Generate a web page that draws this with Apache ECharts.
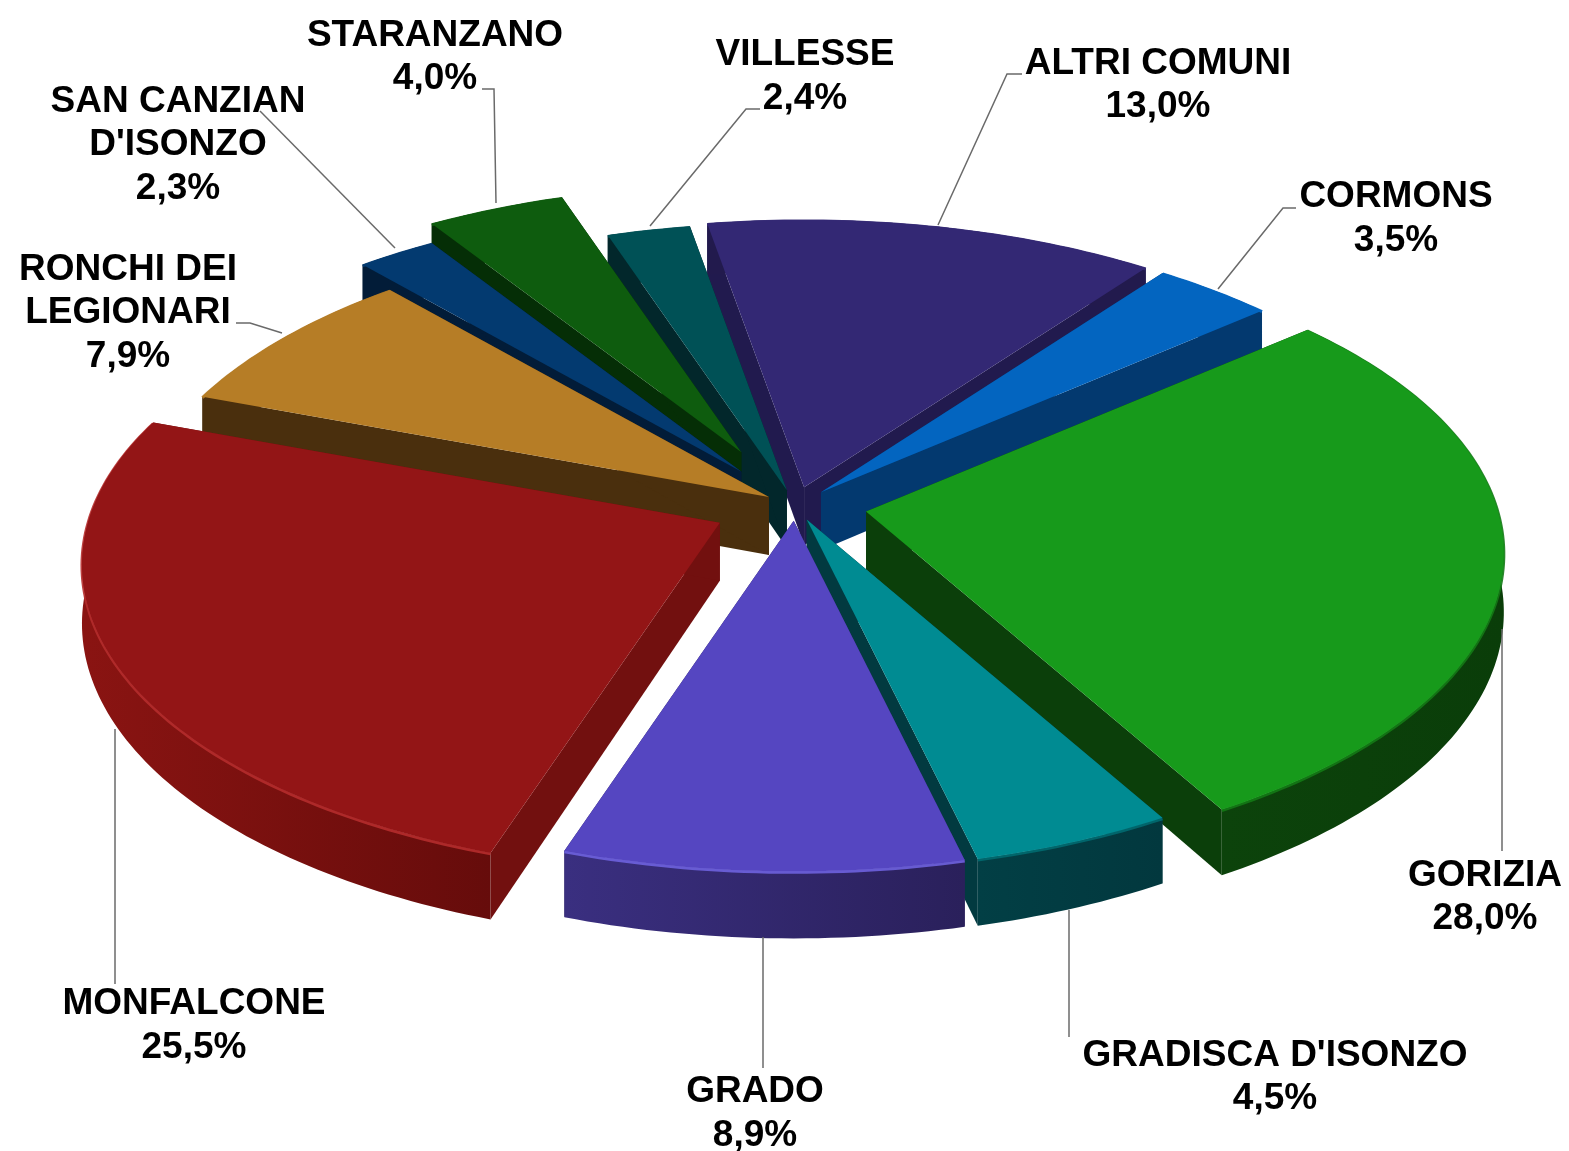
<!DOCTYPE html>
<html>
<head>
<meta charset="utf-8">
<style>html,body{margin:0;padding:0;background:#fff}#c{width:1569px;height:1151px}</style>
<script src="https://cdn.jsdelivr.net/npm/echarts@6/dist/echarts.min.js"></script>
</head>
<body>
<div id="c"></div>
<script>
// data (clockwise from the first slice)
const categories = ['ALTRI COMUNI','CORMONS','GORIZIA',"GRADISCA D'ISONZO",'GRADO','MONFALCONE','RONCHI DEI\nLEGIONARI',"SAN CANZIAN\nD'ISONZO",'STARANZANO','VILLESSE'];
const shares = [13.0,3.5,28.0,4.5,8.9,25.5,7.9,2.3,4.0,2.4];
// slice pull-out, as a fraction of the radius
const explode = [0.062,0.06,0.114,0.05,0.05,0.132,0.05,0.14,0.195,0.052];
// painter's order, back to front
const drawOrder = [0,9,1,8,7,6,2,5,3,4];
// styling: top face, side wall gradient, cut wall, rim highlight
const faceColors = ['#332874','#0365c0','#179a1b','#008b92','#5546c1','#931516','#b67d26','#033a70','#0e5c0e','#005156'];
const wallFrom   = ['#221a4d','#03396f','#0c430b','#023f45','#3a2f80','#8a1412','#4a2f0d','#021c38','#052e06','#02272b'];
const wallTo     = ['#221a4d','#03396f','#0a3d09','#02383e','#2a205b','#660c0b','#4a2f0d','#021c38','#052e06','#02272b'];
const cutColors  = ['#211a4e','#03396f','#0b3f0a','#023a40','#2a205b','#72100f','#4a2f0d','#021c38','#052e06','#02272b'];
const rimColors  = ['#332874','#0365c0','#137a15','#016a70','#6e62de','#b52c2c','#b67d26','#033a70','#0e5c0e','#005156'];
// label anchors (centre of the text block) and leader lines
const labelPos = [[1158,85.5],[1396,219],[1485,897.5],[1275,1077.5],[755,1114],[194,1026],[128,313],[178,145],[435,57.5],[805,77]];
const leaders = [
  [[1022,74],[1007,74],[938,225]],
  [[1296,208],[1283,208],[1218,289]],
  [[1502,629],[1502,851]],
  [[1069,910],[1069,1037]],
  [[763,937],[763,1068]],
  [[115,729],[115,984]],
  [[236,323],[250,323],[282,333]],
  [[260,111],[395,248]],
  [[482,89],[494,89],[496,203]],
  [[760,109],[746,109],[650,226]]
];

// projection of the tilted disc
const CX = 795, CY = 505.5, R = 632, TILT = 0.48, PERSP = 0.135, ROT = -10, DEPTH = 58;
const rad = d => d * Math.PI / 180;
function project(theta, r, off, down) {
  const u = Math.sin(rad(theta)) * r, v = -Math.cos(rad(theta)) * r, w = 1 - PERSP * v;
  return [CX + off[0] + R * u / w, CY + off[1] + R * TILT * v / w + (down ? DEPTH / w : 0)];
}
const cumulative = [];
shares.reduce((a, v, i) => (cumulative[i] = a, a + v), 0);

function renderSlice(params, api) {
  const i = drawOrder[params.dataIndex];
  const start = api.value(0) * 3.6 + ROT, sweep = api.value(1) * 3.6, mid = start + sweep / 2;
  const off = [R * explode[i] * Math.sin(rad(mid)), -R * TILT * explode[i] * Math.cos(rad(mid))];
  const top = [], bottom = [];
  const n = Math.max(2, Math.ceil(sweep));
  for (let j = 0; j <= n; j++) {
    const t = start + sweep * j / n;
    top.push(project(t, 1, off, false));
    bottom.push(project(t, 1, off, true));
  }
  const apex = project(0, 0, off, false), apexLow = project(0, 0, off, true);
  const poly = (pts, fill) => ({type: 'polygon', shape: {points: pts}, style: {fill: fill}, silent: true});
  const wallFill = new echarts.graphic.LinearGradient(0, 0, 1, 0, [{offset: 0, color: wallFrom[i]}, {offset: 1, color: wallTo[i]}]);
  return {
    type: 'group',
    children: [
      poly([apex, top[0], bottom[0], apexLow], cutColors[i]),
      poly([apex, top[n], bottom[n], apexLow], cutColors[i]),
      poly(top.concat(bottom.slice().reverse()), wallFill),
      {type: 'polyline', shape: {points: top.map(p => [p[0], p[1] + 1])}, style: {stroke: rimColors[i], lineWidth: 3, fill: null, opacity: 0.9}, silent: true},
      poly([apex].concat(top), faceColors[i])
    ]
  };
}

function renderLabel(params, api) {
  const i = params.dataIndex;
  const text = categories[i] + '\n' + api.value(1).toFixed(1).replace('.', ',') + '%';
  return {
    type: 'group',
    children: [
      {type: 'polyline', shape: {points: leaders[i]}, style: {stroke: '#6a6a6a', lineWidth: 1.5, fill: null}, silent: true},
      {type: 'text', x: labelPos[i][0], y: labelPos[i][1], silent: true,
       style: {text: text, fill: '#000', align: 'center', verticalAlign: 'middle',
               font: 'bold 37px "Liberation Sans", Arial, sans-serif', lineHeight: 43.5}}
    ]
  };
}

const chart = echarts.init(document.getElementById('c'), null, {renderer: 'canvas'});
chart.setOption({
  animation: false,
  backgroundColor: '#fff',
  series: [
    {type: 'custom', coordinateSystem: 'none', renderItem: renderSlice, silent: true, z: 1,
     data: drawOrder.map(i => ({name: categories[i], value: [cumulative[i], shares[i]]}))},
    {type: 'custom', coordinateSystem: 'none', renderItem: renderLabel, silent: true, z: 2,
     data: categories.map((c, i) => ({name: c, value: [cumulative[i], shares[i]]}))}
  ]
});
</script>
</body>
</html>
